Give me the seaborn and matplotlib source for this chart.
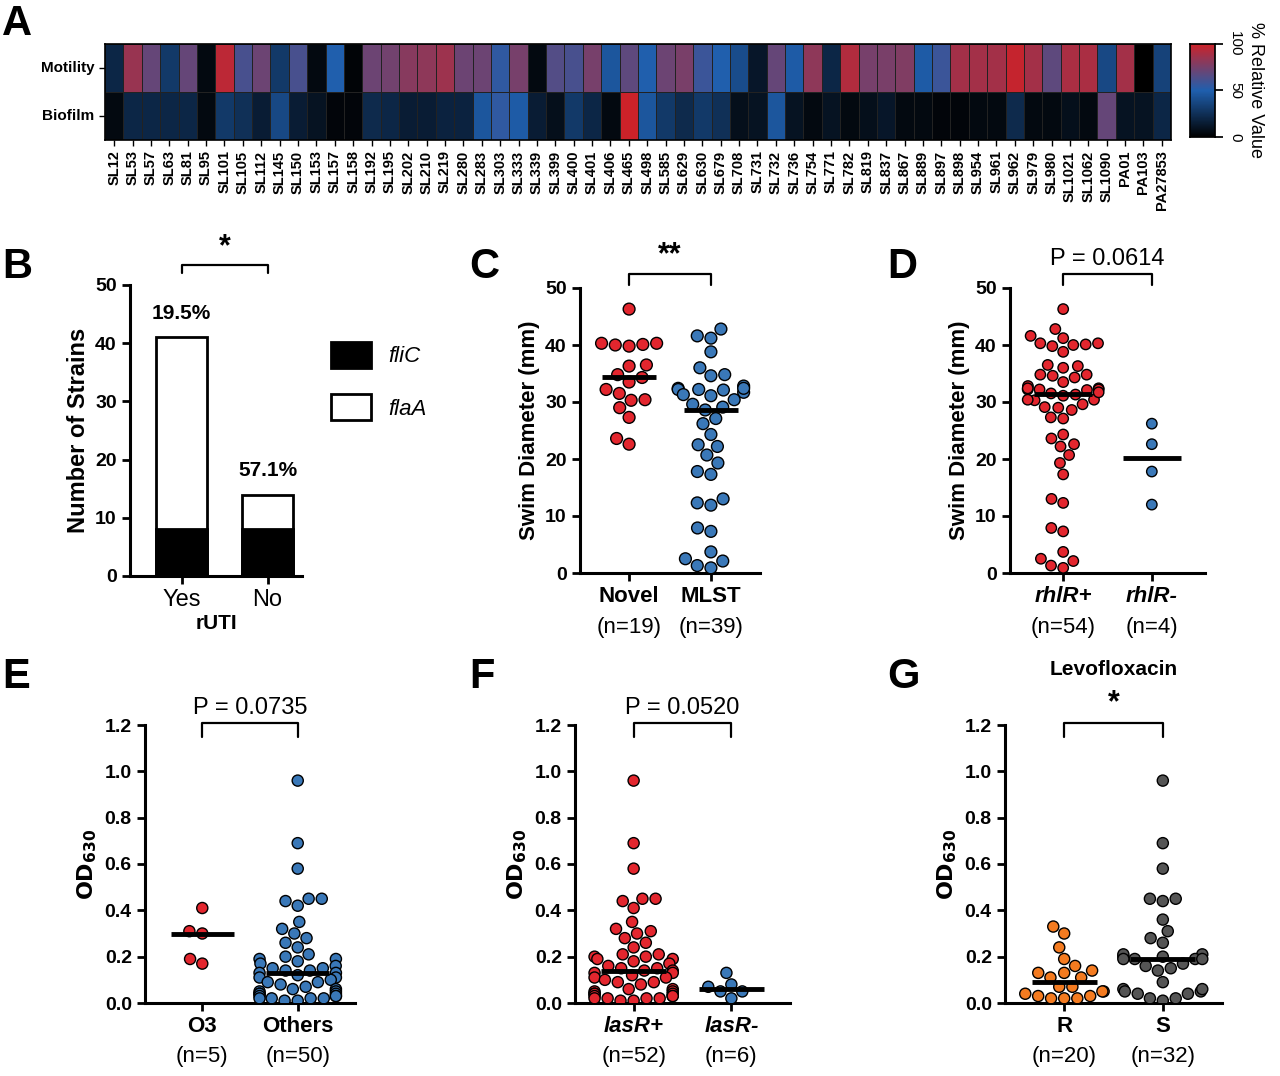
import numpy as np
import pandas as pd
import matplotlib
matplotlib.use("Agg")
import matplotlib.pyplot as plt
import seaborn as sns
from matplotlib.colors import LinearSegmentedColormap
from matplotlib.patches import Patch

sns.set_theme(style="ticks")
plt.rcParams['font.family'] = ['Liberation Sans', 'DejaVu Sans']
plt.rcParams['font.weight'] = 'bold'
plt.rcParams['axes.labelweight'] = 'bold'
for k in ['text.color', 'axes.labelcolor', 'xtick.color', 'ytick.color', 'axes.edgecolor']:
    plt.rcParams[k] = 'black'

strains = ["SL12","SL53","SL57","SL63","SL81","SL95","SL101","SL105","SL112","SL145","SL150","SL153","SL157","SL158",
           "SL192","SL195","SL202","SL210","SL219","SL280","SL283","SL303","SL333","SL339","SL399","SL400","SL401","SL406",
           "SL465","SL498","SL585","SL629","SL630","SL679","SL708","SL731","SL732","SL736","SL754","SL771","SL782","SL819",
           "SL837","SL867","SL889","SL897","SL898","SL954","SL961","SL962","SL979","SL980","SL1021","SL1062","SL1090",
           "PA01","PA103","PA27853"]
motility = [20,85,70,30,70,5,95,62,72,30,62,5,50,2,72,74,80,82,86,72,72,55,75,5,65,62,75,45,68,50,72,76,58,50,40,12,
            70,48,82,20,92,75,76,78,48,58,88,88,88,98,88,68,90,90,38,88,0,35]
biofilm = [5,20,20,20,20,5,30,25,15,38,15,10,3,3,22,20,15,15,18,18,45,55,48,15,8,30,20,5,100,45,30,22,30,25,8,10,
           45,10,5,10,5,8,12,5,5,3,3,5,5,22,5,5,8,5,70,10,10,20]

rUTI = ["Yes", "No"]
fliC = [8, 8]
flaA = [33, 6]

novel = [46.3,40.3,40.0,40.3,39.8,40.1,36.3,36.5,34.8,33.5,34.3,32.2,31.5,30.3,30.4,29.0,27.3,23.6,22.6]
mlst = [42.8,41.2,41.6,38.8,36.0,34.6,34.8,32.4,32.1,32.8,32.2,32.2,31.7,32.4,31.1,31.3,30.4,29.6,29.1,28.6,
        27.1,26.2,24.3,22.5,22.2,20.7,19.3,17.3,17.8,11.9,12.3,13.0,7.3,7.9,2.5,2.1,3.7,1.3,0.9]
rhlr_minus = [26.2,22.6,17.8,12.0]
rhlr_plus = novel + [42.8,41.2,41.6,38.8,36.0,34.6,34.8,32.4,32.1,32.8,32.2,32.2,31.7,32.4,31.1,31.3,30.4,29.6,29.1,28.6,
                     27.1,24.3,22.2,20.7,19.3,17.3,12.3,13.0,7.3,7.9,2.5,2.1,3.7,1.3,0.9]

o3 = [0.41,0.30,0.31,0.19,0.17]
others = [0.96,0.69,0.58,0.45,0.44,0.45,0.42,0.35,0.32,0.30,0.28,0.26,0.24,0.21,0.20,0.19,0.19,0.18,0.17,0.16,
          0.15,0.15,0.14,0.14,0.13,0.13,0.12,0.11,0.11,0.10,0.09,0.09,0.08,0.07,0.06,0.06,0.05,0.05,0.04,0.04,
          0.04,0.03,0.03,0.03,0.02,0.02,0.02,0.01,0.01,0.02]
lasr_plus = [0.96,0.69,0.58,0.45,0.44,0.45,0.41,0.35,0.32,0.30,0.31,0.28,0.26,0.24,0.21,0.21,0.20,0.20,0.19,0.19,
             0.18,0.17,0.16,0.15,0.15,0.14,0.14,0.13,0.13,0.12,0.11,0.11,0.10,0.09,0.09,0.08,0.06,0.06,0.05,0.05,
             0.04,0.04,0.04,0.03,0.03,0.03,0.02,0.02,0.02,0.01,0.01,0.02]
lasr_minus = [0.13,0.08,0.07,0.05,0.05,0.02]
levo_r = [0.33,0.30,0.24,0.19,0.16,0.14,0.13,0.11,0.11,0.13,0.07,0.05,0.07,0.03,0.04,0.05,0.02,0.03,0.02,0.02]
levo_s = [0.96,0.69,0.58,0.45,0.45,0.44,0.36,0.31,0.28,0.26,0.20,0.20,0.21,0.19,0.19,0.21,0.19,0.19,0.16,0.15,
          0.14,0.17,0.09,0.06,0.05,0.04,0.05,0.04,0.06,0.02,0.02,0.01]

RED = "#e3262e"; BLUE = "#3a78b8"; ORANGE = "#f47b20"; GREY = "#555555"

W, H = 1280, 1076
fig = plt.figure(figsize=(12.8, 10.76), dpi=100)
def ax_px(x0, y0, x1, y1):
    return fig.add_axes([x0 / W, 1 - y1 / H, (x1 - x0) / W, (y1 - y0) / H])

# ---------- A heatmap ----------
cmap = LinearSegmentedColormap.from_list("bbr", [(0, "#000000"), (0.5, "#1f5fae"), (1, "#cc2229")])
axA = ax_px(105, 44, 1171, 140)
axC = ax_px(1190, 44, 1215, 137)
hm = pd.DataFrame([motility, biofilm], index=["Motility", "Biofilm"], columns=strains)
sns.heatmap(hm, ax=axA, cmap=cmap, vmin=0, vmax=100, cbar_ax=axC, linewidths=0.4, linecolor="#222222")
axA.set_xticks(np.arange(len(strains)) + 0.5)
axA.set_xticklabels(strains, rotation=90, fontsize=10.5, fontweight="bold")
axA.set_yticklabels(["Motility", "Biofilm"], rotation=0, fontsize=11, fontweight="bold")
axA.tick_params(length=4, width=1)
for s in axA.spines.values():
    s.set_visible(True); s.set_linewidth(1.2)
axC.set_yticks([0, 50, 100])
axC.set_yticklabels(["0", "50", "100"], rotation=270, fontsize=11, fontweight="normal", va="center")
axC.set_ylabel("% Relative Value", rotation=270, labelpad=16, fontsize=13, fontweight="normal")
axC.yaxis.set_label_position("right")
for s in axC.spines.values():
    s.set_visible(True)

def style(ax):
    sns.despine(ax=ax)
    ax.spines['left'].set_linewidth(2.2)
    ax.spines['bottom'].set_linewidth(2.2)
    ax.tick_params(width=2, length=6, labelsize=14)
    for lab in ax.get_yticklabels():
        lab.set_fontweight("bold")

def bracket(ax, x0, x1, y, h, text, fs=20):
    ax.plot([x0, x0, x1, x1], [y - h, y, y, y - h], color="black", lw=1.6, clip_on=False)
    ax.text((x0 + x1) / 2, y + h * 0.3, text, ha="center", va="bottom", fontsize=fs,
            fontweight="bold" if text.startswith("*") else "normal")

# ---------- B stacked bars ----------
axB = ax_px(130, 285, 302, 576)
dfb = pd.DataFrame({"rUTI": rUTI, "total": np.add(fliC, flaA), "fliC": fliC})
sns.barplot(data=dfb, x="rUTI", y="total", ax=axB, color="white", edgecolor="black", linewidth=2, width=0.6)
sns.barplot(data=dfb, x="rUTI", y="fliC", ax=axB, color="black", edgecolor="black", linewidth=2, width=0.6)
axB.set_ylim(0, 50); axB.set_yticks(range(0, 51, 10))
axB.set_xlim(-0.6, 1.4)
axB.set_ylabel("Number of Strains", fontsize=17)
axB.set_xlabel("rUTI", fontsize=15, labelpad=2)
style(axB)
axB.set_xticks([0, 1]); axB.set_xticklabels(rUTI, fontsize=17, fontweight="normal")
for i, t in enumerate(dfb["total"]):
    pct = fliC[i] / t * 100
    axB.text(i, t + 2.5, f"{pct:.1f}%", ha="center", va="bottom", fontsize=15, fontweight="bold")
bracket(axB, 0, 1, 53.5, 1.5, "*", fs=22)
axB.legend(handles=[Patch(facecolor="black", edgecolor="black", lw=2),
                    Patch(facecolor="white", edgecolor="black", lw=2)],
           labels=["fliC", "flaA"], loc="center left", bbox_to_anchor=(1.05, 0.67),
           frameon=False, prop={"style": "italic", "size": 16, "weight": "normal"},
           handlelength=1.8, handleheight=1.4, labelspacing=1.2)

def swarm(ax, groups, colors, names, ns, ylim, yticks, ylabel, italic=False, size=8.5):
    df = pd.DataFrame({"g": sum([[n] * len(v) for n, v in zip(names, groups)], []),
                       "v": sum(groups, [])})
    sns.swarmplot(data=df, x="g", y="v", hue="g", palette=colors, ax=ax, size=size,
                  edgecolor="black", linewidth=1, legend=False, warn_thresh=1)
    med = df.groupby("g", sort=False)["v"].median()
    for i, n in enumerate(names):
        ax.hlines(med[n], i - 0.33, i + 0.33, color="black", lw=3.5, zorder=5)
    ax.set_ylim(*ylim); ax.set_yticks(yticks)
    ax.set_xlim(-0.6, 1.6)
    ax.set_xlabel(""); ax.set_ylabel(ylabel, fontsize=16)
    style(ax)
    ax.set_xticks([0, 1])
    ax.set_xticklabels(names, fontsize=16, fontweight="bold", fontstyle="italic" if italic else "normal")
    for i, n in enumerate(ns):
        ax.text(i, -0.155, f"(n={n})", transform=ax.get_xaxis_transform(), ha="center", va="top",
                fontsize=16, fontweight="normal")

axCc = ax_px(580, 288, 760, 573)
swarm(axCc, [novel, mlst], [RED, BLUE], ["Novel", "MLST"], [19, 39], (0, 50), range(0, 51, 10),
      "Swim Diameter (mm)")
bracket(axCc, 0, 1, 52.5, 2, "**", fs=22)

axD = ax_px(1010, 288, 1205, 573)
swarm(axD, [rhlr_plus, rhlr_minus], [RED, BLUE], ["rhlR+", "rhlR-"], [54, 4], (0, 50), range(0, 51, 10),
      "Swim Diameter (mm)", italic=True, size=7.5)
bracket(axD, 0, 1, 52.5, 2, "P = 0.0614", fs=17)

odlab = r"$\mathbf{OD_{630}}$"
ytk = np.round(np.arange(0, 1.21, 0.2), 1)
axE = ax_px(145, 725, 355, 1003)
swarm(axE, [o3, others], [RED, BLUE], ["O3", "Others"], [5, 50], (0, 1.2), ytk, odlab, size=8)
bracket(axE, 0, 1, 1.21, 0.06, "P = 0.0735", fs=17)

axF = ax_px(575, 725, 790, 1003)
swarm(axF, [lasr_plus, lasr_minus], [RED, BLUE], ["lasR+", "lasR-"], [52, 6], (0, 1.2), ytk, odlab,
      italic=True, size=8)
bracket(axF, 0, 1, 1.21, 0.06, "P = 0.0520", fs=17)

axG = ax_px(1005, 725, 1222, 1003)
swarm(axG, [levo_r, levo_s], [ORANGE, GREY], ["R", "S"], [20, 32], (0, 1.2), ytk, odlab, size=8)
bracket(axG, 0, 1, 1.21, 0.06, "*", fs=22)
axG.text(0.5, 1.165, "Levofloxacin", transform=axG.transAxes, ha="center", va="bottom",
         fontsize=15, fontweight="bold")

for lab, x, y in [("A", 0, 2), ("B", 0, 245), ("C", 467, 245), ("D", 885, 245),
                  ("E", 0, 655), ("F", 467, 655), ("G", 885, 655)]:
    fig.text((x + 2) / W, 1 - (y + 2) / H, lab, fontsize=30, fontweight="bold", va="top", ha="left")

fig.savefig("out.png", dpi=100)
